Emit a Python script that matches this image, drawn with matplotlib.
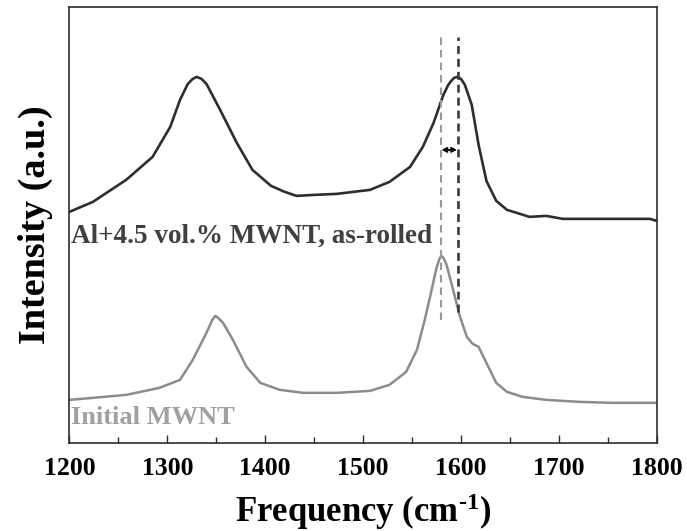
import numpy as np
import matplotlib
matplotlib.use("Agg")
import matplotlib.pyplot as plt
from matplotlib.ticker import MultipleLocator, NullLocator

############################################
# DATA
############################################

# Al+4.5 vol.% MWNT, as-rolled
freq_rolled = [1200, 1224, 1258, 1285, 1303, 1313, 1321, 1326, 1330, 1335,
               1340, 1354, 1371, 1387, 1406, 1420, 1432, 1450, 1473, 1507,
               1527, 1548, 1561, 1572, 1582, 1587, 1590, 1593, 1596, 1600,
               1604, 1611, 1618, 1626, 1636, 1647, 1657, 1670, 1687, 1704,
               1738, 1772, 1793, 1800]
int_rolled = [231, 241, 263, 286, 316, 343, 359, 364, 366, 364,
              359, 333, 300, 273, 257, 251, 247, 248, 249, 253,
              261, 276, 296, 320, 348, 358, 362, 365, 366, 364,
              358, 338, 298, 262, 242, 233, 230, 226, 227, 224,
              224, 224, 224, 222]

# Initial MWNT
freq_init = [1200, 1224, 1258, 1292, 1313, 1326, 1340, 1346, 1349, 1352,
             1357, 1367, 1381, 1395, 1415, 1439, 1473, 1507, 1527, 1544,
             1555, 1563, 1570, 1575, 1578, 1580, 1582, 1585, 1592, 1599,
             1606, 1612, 1618, 1626, 1636, 1647, 1663, 1687, 1721, 1755,
             1800]
int_init = [43, 45, 48, 55, 63, 83, 110, 123, 127, 125,
            120, 103, 76, 60, 53, 50, 50, 52, 58, 71,
            93, 123, 153, 175, 184, 187, 185, 179, 153, 126,
            106, 99, 96, 80, 60, 51, 46, 43, 41, 40,
            40]

# G-band peak positions (dashed markers)
g_peak_init = 1579.5
g_peak_rolled = 1596.5

label_rolled = "Al+4.5 vol.% MWNT, as-rolled"
label_init = "Initial MWNT"

############################################
# STYLE
############################################

plt.rcParams['font.family'] = ['Liberation Serif', 'DejaVu Serif']
plt.rcParams['font.weight'] = 'bold'
plt.rcParams['mathtext.fontset'] = 'custom'
plt.rcParams['mathtext.rm'] = 'Liberation Serif:bold'
plt.rcParams['mathtext.bf'] = 'Liberation Serif:bold'
plt.rcParams['mathtext.it'] = 'Liberation Serif:bold'

DARK = "#2e2e2e"
GREY = "#8c8c8c"

############################################
# PLOT
############################################

fig = plt.figure(figsize=(6.87, 5.31), dpi=100)
ax = fig.add_axes([0.101, 0.166, 0.855, 0.821])

ax.plot(freq_rolled, int_rolled, color=DARK, lw=1.9, solid_joinstyle='round')
ax.plot(freq_init, int_init, color=GREY, lw=1.8, solid_joinstyle='round')

ax.plot([g_peak_init, g_peak_init], [123, 406], color="#9a9a9a", lw=1.5,
        linestyle=(0, (3.6, 2.4)))
ax.plot([g_peak_rolled, g_peak_rolled], [131, 406], color="#3a3a3a", lw=1.9,
        linestyle=(0, (3.0, 1.9)))

ax.annotate("", xy=(g_peak_init + 0.5, 293), xytext=(g_peak_rolled - 0.5, 293),
            arrowprops=dict(arrowstyle="<->", lw=1.4, color="black",
                            shrinkA=0, shrinkB=0, mutation_scale=7))

ax.text(1202, 200, label_rolled, color="#404040", fontsize=19.5,
        fontweight='bold', va='baseline', ha='left')
ax.text(1202, 19, label_init, color="#a0a0a0", fontsize=19,
        fontweight='bold', va='baseline', ha='left')

ax.set_xlim(1200, 1800)
ax.set_ylim(0, 436)

ax.xaxis.set_major_locator(MultipleLocator(100))
ax.xaxis.set_minor_locator(MultipleLocator(50))
ax.yaxis.set_major_locator(NullLocator())
ax.tick_params(axis='x', which='major', direction='in', length=6, width=1,
               labelsize=18.5, pad=10, colors=DARK, labelcolor='black')
ax.tick_params(axis='x', which='minor', direction='in', length=4, width=1,
               colors=DARK)
for lab in ax.get_xticklabels():
    lab.set_fontweight('bold')

for sp in ax.spines.values():
    sp.set_color(DARK)
    sp.set_linewidth(1.2)

ax.set_xlabel(r"Frequency (cm$^{\text{-1}}$)", fontsize=25, fontweight='bold',
              labelpad=8)
ax.set_ylabel("Intensity (a.u.)", fontsize=27.5, fontweight='bold', labelpad=12)

fig.savefig("out.png", dpi=100)
